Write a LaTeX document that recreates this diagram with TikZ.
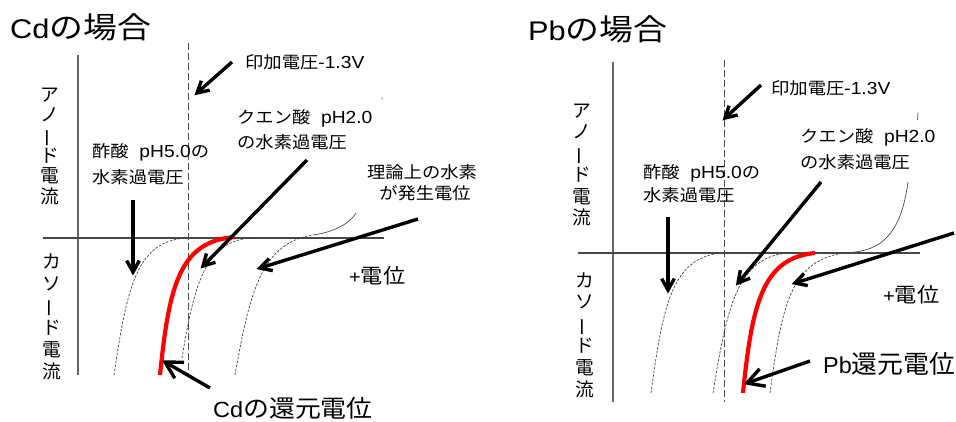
\documentclass[tikz,border=0pt]{standalone}
\usepackage{fontspec}
\setmainfont{Liberation Sans}
\newfontfamily\jpf[Scale=1.1]{Noto Sans CJK JP}
\newfontfamily\jps[Scale=0.95]{Noto Sans CJK JP}
\newcommand\J[1]{{\jpf #1}}
\newcommand\Js[1]{{\jps #1}}
\newcommand\W[2]{\scalebox{#1}[1]{#2}}
\newcommand\VB{\rotatebox[origin=c]{90}{ー}}
\usetikzlibrary{calc}
% thick arrow with open chevron head: start, end, barb length
\newcommand\arrw[3]{%
  \draw[arrline, shorten >=1.5pt] (#1) -- (#2);
  \draw[arrline, line join=miter, miter limit=4] ($(#2)!#3!29:(#1)$) -- (#2) -- ($(#2)!#3!-29:(#1)$);}
\begin{document}
\begin{tikzpicture}[x=1pt,y=-1pt,
  axisln/.style={draw=black!72, line width=1.1pt},
  vdash/.style={draw=black!70, line width=0.9pt, dash pattern=on 7pt off 3pt},
  curve/.style={draw=black!75, line width=0.7pt, dash pattern=on 2.5pt off 1.5pt},
  anod/.style={draw=black!70, line width=0.7pt},
  redc/.style={draw=red, line width=4.2pt},
  arrline/.style={draw=black, line width=3.4pt},
  lbl/.style={inner sep=0pt, anchor=west},
  small/.style={font=\fontsize{17.5}{20}\selectfont},
  vlab/.style={inner sep=0pt, align=center},
]
\useasboundingbox (0,0) rectangle (956,421);

% ================= LEFT PANEL (Cd) =================
\node[lbl, font=\fontsize{27}{30}\selectfont] (tCd) at (10,27) {\W{1.14}{Cd\J{の場合}}};

% axes
\coordinate (LvT) at (78,55);   \coordinate (LvB) at (78,375);
\coordinate (LhL) at (43,238);  \coordinate (LhR) at (384,238);
\coordinate (LdT) at (188,43);  \coordinate (LdB) at (188,374);
\draw[axisln, draw=black!60] (LvT) -- (LvB);
\draw[axisln] (LhL) -- (LhR);
\draw[vdash] (LdT) -- (LdB);

% axis labels
\node[vlab, font=\fontsize{17}{20.4}\selectfont] (LaA) at (50,146) {\J{ア}\\\J{ノ}\\\J{\VB}\\\J{ド}\\\J{電}\\\J{流}};
\node[vlab, font=\fontsize{17}{22}\selectfont] (LaC) at (52,317) {\J{カ}\\\J{ソ}\\\J{\VB}\\\J{ド}\\\J{電}\\\J{流}};

% curves
\draw[curve] (114,375) .. controls (127,288) and (136,240) .. (188,238);
\draw[curve] (182,358) .. controls (194,285) and (205,242) .. (250,238);
\draw[curve] (235,375) .. controls (250,290) and (262,243) .. (313,235);
\draw[anod] (313,235) .. controls (335,232) and (350,223) .. (356,213);
\draw[anod] (382,97.5) -- (382.3,99);
\draw[redc] (160,375) .. controls (169,287) and (179,241) .. (235,237);

% labels
\node[lbl, small] (LvA) at (245,62) {\W{1.1}{\Js{印加電圧}-1.3V}};
\node[lbl, small] (LcA1) at (237,118) {\W{1.1}{\Js{クエン酸}\ \ pH2.0}};
\node[lbl, small] (LcA2) at (237,142) {\W{1.1}{\Js{の水素過電圧}}};
\node[lbl, small] (LaA1) at (92,152) {\W{1.1}{\Js{酢酸}\ \ pH5.0\Js{の}}};
\node[lbl, small] (LaA2) at (92,177) {\W{1.1}{\Js{水素過電圧}}};
\node[inner sep=0pt, small] (LtA1) at (422,172) {\W{1.1}{\Js{理論上の水素}}};
\node[inner sep=0pt, small] (LtA2) at (425,193) {\W{1.1}{\Js{が発生電位}}};
\node[lbl, font=\fontsize{18.5}{20}\selectfont] (LpE) at (349,276) {\W{1.09}{+\J{電位}}};
\node[lbl, font=\fontsize{22}{24}\selectfont] (LcdR) at (213,408) {\W{1.07}{Cd\J{の還元電位}}};

% arrows
\coordinate (a1s) at (232,62);  \coordinate (a1e) at (197,93);
\coordinate (a2s) at (133,200); \coordinate (a2e) at (133,272);
\coordinate (a3s) at (307,160); \coordinate (a3e) at (203,266);
\coordinate (a4s) at (418,219); \coordinate (a4e) at (260,268);
\coordinate (a5s) at (210,388); \coordinate (a5e) at (165,362);
\arrw{a1s}{a1e}{13pt}
\arrw{a2s}{a2e}{13pt}
\arrw{a3s}{a3e}{13pt}
\arrw{a4s}{a4e}{13pt}
\arrw{a5s}{a5e}{19pt}

% ================= RIGHT PANEL (Pb) =================
\node[lbl, font=\fontsize{27}{30}\selectfont] (tPb) at (528,29) {\W{1.14}{Pb\J{の場合}}};

\coordinate (RvT) at (613,62);  \coordinate (RvB) at (613,402);
\coordinate (RhL) at (578,253); \coordinate (RhR) at (920,253);
\coordinate (RdT) at (724,60);  \coordinate (RdB) at (724,402);
\draw[axisln, draw=black!60] (RvT) -- (RvB);
\draw[axisln] (RhL) -- (RhR);
\draw[vdash] (RdT) -- (RdB);

\node[vlab, font=\fontsize{17}{21.4}\selectfont] (RaA) at (582,165) {\J{ア}\\\J{ノ}\\\J{\VB}\\\J{ド}\\\J{電}\\\J{流}};
\node[vlab, font=\fontsize{17}{21.8}\selectfont] (RaC) at (585,335) {\J{カ}\\\J{ソ}\\\J{\VB}\\\J{ド}\\\J{電}\\\J{流}};

\draw[curve] (651,393) .. controls (663,305) and (672,258) .. (721,253);
\draw[curve] (713,393) .. controls (727,305) and (738,258) .. (787,253);
\draw[curve] (770,393) .. controls (782,305) and (790,262) .. (843,253);
\draw[anod] (843,253) .. controls (875,252) and (900,242) .. (908,182);
\draw[anod] (918,113) -- (917.5,120);
\draw[redc] (743,393) .. controls (752,305) and (762,258) .. (815,253);

\node[lbl, small] (RvA) at (771,88) {\W{1.1}{\Js{印加電圧}-1.3V}};
\node[lbl, small] (RcA1) at (800,137) {\W{1.1}{\Js{クエン酸}\ \ pH2.0}};
\node[lbl, small] (RcA2) at (800,162) {\W{1.1}{\Js{の水素過電圧}}};
\node[lbl, small] (RaA1) at (643,173) {\W{1.1}{\Js{酢酸}\ \ pH5.0\Js{の}}};
\node[lbl, small] (RaA2) at (643,195) {\W{1.1}{\Js{水素過電圧}}};
\node[lbl, font=\fontsize{18.5}{20}\selectfont] (RpE) at (883,295) {\W{1.09}{+\J{電位}}};
\node[lbl, font=\fontsize{23}{25}\selectfont] (RpbR) at (823,364) {\W{1.02}{Pb\J{還元電位}}};

\coordinate (b1s) at (761,85);  \coordinate (b1e) at (725,118);
\coordinate (b2s) at (668,217); \coordinate (b2e) at (668,290);
\coordinate (b3s) at (821,182); \coordinate (b3e) at (738,283);
\coordinate (b4s) at (954,233); \coordinate (b4e) at (795,283);
\coordinate (b5s) at (810,361); \coordinate (b5e) at (747,383);
\arrw{b1s}{b1e}{13pt}
\arrw{b2s}{b2e}{13pt}
\arrw{b3s}{b3e}{13pt}
\arrw{b4s}{b4e}{13pt}
\arrw{b5s}{b5e}{19pt}
\end{tikzpicture}
\end{document}
